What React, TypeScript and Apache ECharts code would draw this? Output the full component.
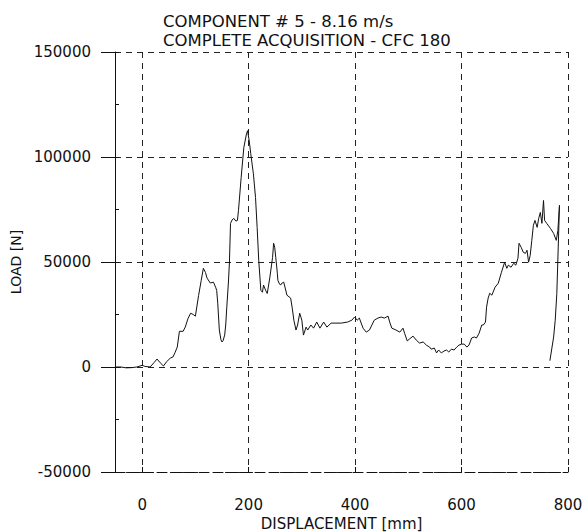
import React, { useEffect, useRef } from "react";
import * as echarts from "echarts";

const titleLines = ["COMPONENT # 5 - 8.16 m/s", "COMPLETE ACQUISITION - CFC 180"];
const xTicks = [0, 200, 400, 600, 800];
const yTicks = [-50000, 0, 50000, 100000, 150000];
const xName = "DISPLACEMENT [mm]";
const yName = "LOAD [N]";

// displacement [mm]
const displacement = [
  -50, -40, -30, -20, -10, 0, 5, 15, 22, 28, 34, 40, 46, 53, 58, 62, 66, 70, 77, 81, 86, 91, 96, 100,
  106, 111, 115, 119, 122, 128, 134, 138, 140, 142, 145, 148, 150, 152, 155, 157, 159, 162, 164, 166,
  169, 172, 176, 179, 181, 186, 191, 196, 198, 201, 204, 209, 213, 216, 219, 223, 226, 228, 232, 235,
  240, 245, 247, 249, 251, 254, 255, 257, 260, 263, 266, 272, 279, 282, 285, 289, 292, 296, 300, 303,
  308, 311, 317, 322, 328, 334, 341, 347, 355, 364, 374, 386, 394, 399, 404, 408, 415, 421, 427, 436,
  443, 449, 455, 462, 465, 469, 477, 484, 490, 493, 498, 502, 509, 515, 521, 528, 534, 540, 543, 549,
  553, 557, 562, 567, 572, 576, 581, 586, 591, 595, 600, 605, 610, 614, 619, 624, 628, 633, 638, 641,
  645, 647, 650, 653, 657, 663, 669, 675, 681, 685, 688, 693, 698, 702, 706, 708, 712, 716, 720, 723,
  726, 729, 732, 735, 738, 742, 745, 748, 751, 754, 756, 760, 767, 773, 778, 781, 784, 782, 779, 776,
  773, 766,
];

// load [N]
const load = [
  0, 0, -400, -300, 0, 800, 300, 0, 2000, 3800, 2000, 500, 2500, 4300, 4800, 7000, 9500, 17000, 17000,
  19000, 23000, 25600, 25000, 24200, 34000, 41300, 47000, 45000, 42300, 40000, 40400, 38000, 36500,
  30400, 17600, 13000, 11900, 12500, 15200, 20000, 28500, 40000, 50000, 68400, 70000, 70800, 69500,
  69800, 74600, 90300, 104500, 111000, 112500, 108000, 101600, 92000, 80700, 66500, 50800, 36500,
  35600, 39000, 36500, 35000, 42800, 52200, 58900, 57000, 52200, 44600, 41300, 40000, 39000, 40000,
  40400, 34200, 32800, 28000, 22300, 17600, 20000, 25600, 22300, 15200, 19000, 17600, 20000, 18500,
  21400, 18500, 21400, 19000, 20900, 20900, 20900, 21400, 22300, 23800, 22300, 23300, 18500, 16600,
  17600, 22300, 23300, 23800, 23300, 24200, 21400, 18500, 17600, 16600, 18500, 16100, 12400, 13300,
  14700, 12800, 11400, 11900, 10400, 9500, 8500, 9000, 6700, 8100, 6700, 7600, 8100, 7100, 8500, 8100,
  9500, 10400, 10900, 10900, 9500, 10400, 13800, 14300, 13800, 16100, 20000, 20000, 21400, 28500,
  32800, 35100, 34200, 38000, 39900, 45100, 49900, 47000, 48500, 47500, 49400, 48500, 51800, 58900,
  57000, 54600, 54100, 55600, 49900, 53200, 60300, 67500, 69800, 66500, 70800, 73600, 68400, 79300,
  69800, 68400, 66000, 63600, 60300, 65000, 77000, 60000, 35000, 22300, 14300, 3000,
];

const FONT = "DejaVu Sans";

export default function App() {
  const ref = useRef<HTMLDivElement>(null);
  useEffect(() => {
    document.body.style.margin = "0";
    const chart = echarts.init(ref.current!, null, { renderer: "svg" });
    const pts = displacement.map((x, i) => [x, load[i]]);
    const xMin = -51;
    const xMax = 800;
    const yMin = -50000;
    const yMax = 150000;
    chart.setOption({
      animation: false,
      backgroundColor: "#ffffff",
      title: {
        text: titleLines[0],
        subtext: titleLines[1],
        left: 163,
        top: 12,
        padding: 0,
        itemGap: 1,
        textStyle: {
          fontFamily: FONT,
          fontSize: 16.5,
          fontWeight: "normal",
          color: "#111",
          lineHeight: 18,
        },
        subtextStyle: {
          fontFamily: FONT,
          fontSize: 16.5,
          color: "#111",
          lineHeight: 18,
        },
      },
      grid: {
        left: 115,
        right: 20,
        top: 52,
        bottom: 60,
        containLabel: false,
        outerBoundsMode: "none",
      },
      xAxis: {
        type: "value",
        min: xMin,
        max: xMax,
        splitNumber: 4,
        minInterval: 200,
        maxInterval: 200,
        name: xName,
        nameLocation: "middle",
        nameGap: 42,
        nameTextStyle: { fontFamily: FONT, fontSize: 15, color: "#111" },
        axisLine: { show: true, onZero: false, lineStyle: { color: "#111", width: 1, type: [10, 4] } },
        axisTick: { show: true, inside: true, length: 5, lineStyle: { color: "#111" } },
        axisLabel: {
          fontFamily: FONT,
          fontSize: 15,
          color: "#111",
          margin: 25,
          showMinLabel: true,
          showMaxLabel: true,
          formatter: (v: number) => (xTicks.includes(v) ? String(v) : ""),
        },
        splitLine: { show: true, lineStyle: { color: "#222", width: 1, type: [6, 5] } },
      },
      yAxis: [
        {
          type: "value",
          min: yMin,
          max: yMax,
          interval: 50000,
          name: yName,
          nameLocation: "middle",
          nameGap: 92,
          nameRotate: 90,
          nameTextStyle: { fontFamily: FONT, fontSize: 14, color: "#111" },
          axisLine: { show: true, onZero: false, lineStyle: { color: "#111", width: 1 } },
          axisTick: { show: true, inside: false, length: 14, lineStyle: { color: "#111" } },
          axisLabel: {
            fontFamily: FONT,
            fontSize: 15,
            color: "#111",
            margin: 24,
            formatter: (v: number) => (yTicks.includes(v) ? String(v) : ""),
          },
          splitLine: { show: true, lineStyle: { color: "#222", width: 1, type: [6, 5] } },
        },
        {
          type: "value",
          min: yMin,
          max: yMax,
          interval: 25000,
          position: "left",
          axisLine: { show: false, onZero: false },
          axisTick: { show: true, inside: true, length: 4, lineStyle: { color: "#111" } },
          axisLabel: { show: false },
          splitLine: { show: false },
        },
      ],
      series: [
        {
          type: "line",
          data: pts,
          showSymbol: false,
          symbol: "none",
          lineStyle: { color: "#111", width: 1 },
          z: 5,
        },
      ],
    });
    return () => chart.dispose();
  }, []);
  return <div ref={ref} style={{ width: 588, height: 532, position: "absolute", left: 0, top: 0 }} />;
}
